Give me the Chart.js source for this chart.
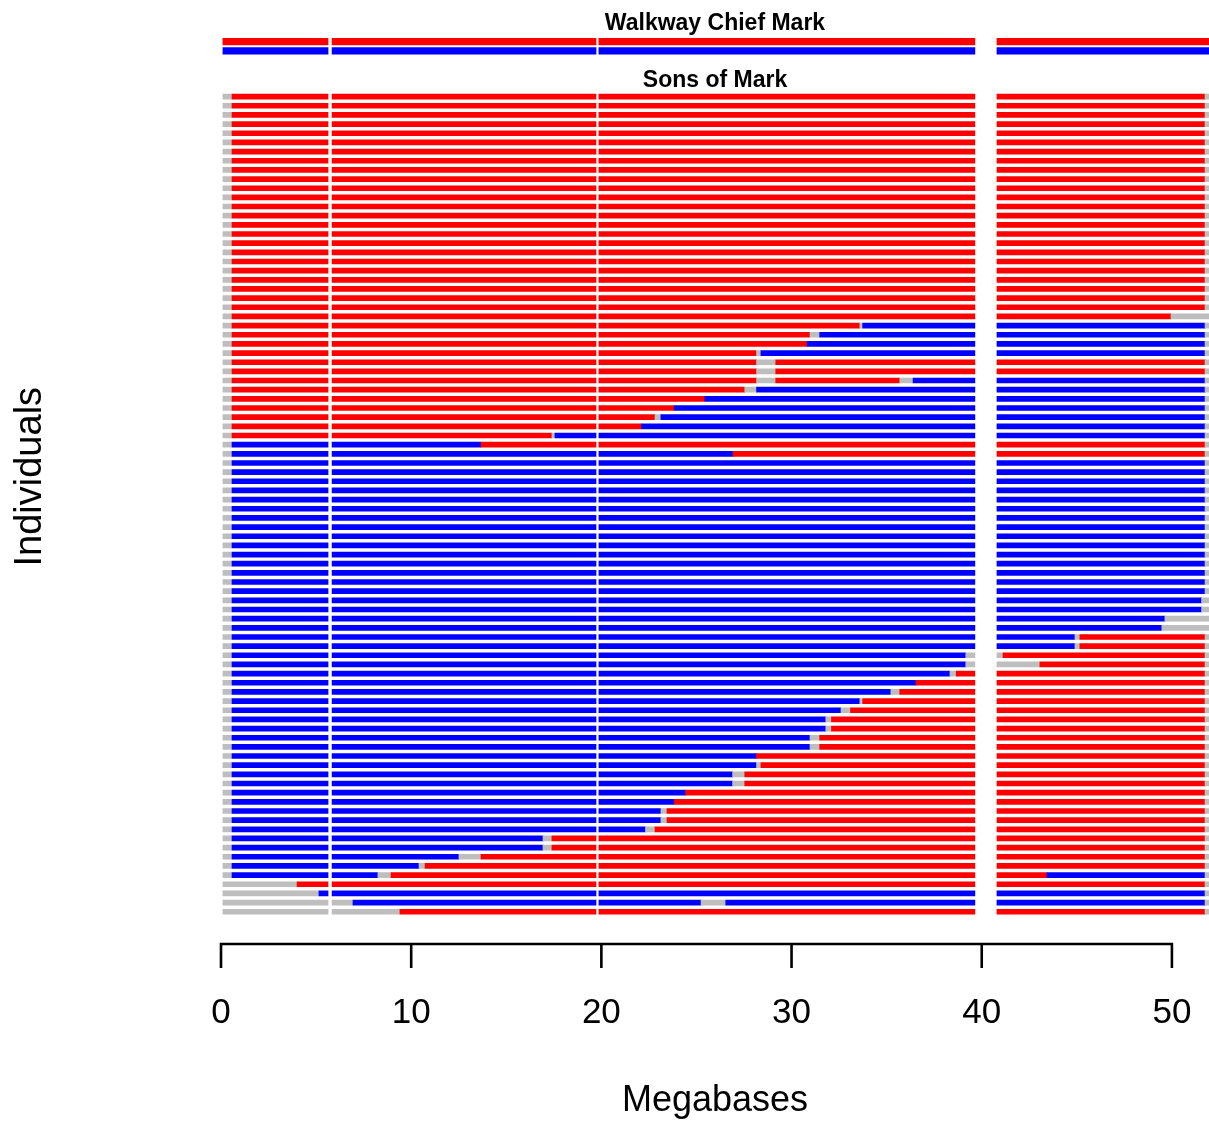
<!DOCTYPE html>
<html>
<head>
<meta charset="utf-8">
<script src="https://cdn.jsdelivr.net/npm/chart.js@4.4.1/dist/chart.umd.min.js"></script>
<style>
  html, body { margin: 0; padding: 0; background: #ffffff; }
  canvas { display: block; }
</style>
</head>
<body>
<canvas id="chart" width="1209" height="1124"></canvas>
<script>
// Marker-covered blocks of the chromosome (Mb); uncovered stretches between them stay white.
const contigs = [[0.10, 5.63], [5.84, 19.72], [19.87, 39.64], [40.80, 51.95]];

// Haplotype codes: 1 = sire haplotype 1, 2 = sire haplotype 2, 0 = undetermined
const hapColours = { 0: '#BEBEBE', 1: '#FF0000', 2: '#0000FF' };

const sireName = 'Walkway Chief Mark';
const sonsTitle = 'Sons of Mark';

// Sire: each haplotype as runs of [haplotype, run end in Mb]
const sireHaplotypes = [
  [[1, 51.95]],
  [[2, 51.95]]
];

// Sons: inherited haplotype runs [haplotype, run end in Mb], each starting where the previous ends
const sons = [
  [[0, 0.58], [1, 51.74], [0, 51.95]],
  [[0, 0.58], [1, 51.74], [0, 51.95]],
  [[0, 0.58], [1, 51.74], [0, 51.95]],
  [[0, 0.58], [1, 51.74], [0, 51.95]],
  [[0, 0.58], [1, 51.74], [0, 51.95]],
  [[0, 0.58], [1, 51.74], [0, 51.95]],
  [[0, 0.58], [1, 51.74], [0, 51.95]],
  [[0, 0.58], [1, 51.74], [0, 51.95]],
  [[0, 0.58], [1, 51.74], [0, 51.95]],
  [[0, 0.58], [1, 51.74], [0, 51.95]],
  [[0, 0.58], [1, 51.74], [0, 51.95]],
  [[0, 0.58], [1, 51.74], [0, 51.95]],
  [[0, 0.58], [1, 51.74], [0, 51.95]],
  [[0, 0.58], [1, 51.74], [0, 51.95]],
  [[0, 0.58], [1, 51.74], [0, 51.95]],
  [[0, 0.58], [1, 51.74], [0, 51.95]],
  [[0, 0.58], [1, 51.74], [0, 51.95]],
  [[0, 0.58], [1, 51.74], [0, 51.95]],
  [[0, 0.58], [1, 51.74], [0, 51.95]],
  [[0, 0.58], [1, 51.74], [0, 51.95]],
  [[0, 0.58], [1, 51.74], [0, 51.95]],
  [[0, 0.58], [1, 51.74], [0, 51.95]],
  [[0, 0.58], [1, 51.74], [0, 51.95]],
  [[0, 0.58], [1, 51.74], [0, 51.95]],
  [[0, 0.58], [1, 49.95], [0, 51.95]],
  [[0, 0.58], [1, 33.59], [0, 33.74], [2, 51.74], [0, 51.95]],
  [[0, 0.58], [1, 30.97], [0, 31.48], [2, 51.74], [0, 51.95]],
  [[0, 0.58], [1, 30.82], [2, 51.74], [0, 51.95]],
  [[0, 0.58], [1, 28.16], [0, 28.39], [2, 51.74], [0, 51.95]],
  [[0, 0.58], [1, 28.16], [0, 29.17], [1, 51.74], [0, 51.95]],
  [[0, 0.58], [1, 28.16], [0, 29.17], [1, 51.74], [0, 51.95]],
  [[0, 0.58], [1, 28.16], [0, 29.17], [1, 35.69], [0, 36.39], [2, 51.74], [0, 51.95]],
  [[0, 0.58], [1, 27.54], [0, 28.16], [2, 51.74], [0, 51.95]],
  [[0, 0.58], [1, 25.44], [2, 51.74], [0, 51.95]],
  [[0, 0.58], [1, 23.83], [2, 51.74], [0, 51.95]],
  [[0, 0.58], [1, 22.82], [0, 23.13], [2, 51.74], [0, 51.95]],
  [[0, 0.58], [1, 22.11], [2, 51.74], [0, 51.95]],
  [[0, 0.58], [1, 17.40], [0, 17.56], [2, 51.74], [0, 51.95]],
  [[0, 0.58], [2, 13.67], [1, 51.74], [0, 51.95]],
  [[0, 0.58], [2, 26.92], [1, 51.74], [0, 51.95]],
  [[0, 0.58], [2, 51.74], [0, 51.95]],
  [[0, 0.58], [2, 51.74], [0, 51.95]],
  [[0, 0.58], [2, 51.74], [0, 51.95]],
  [[0, 0.58], [2, 51.74], [0, 51.95]],
  [[0, 0.58], [2, 51.74], [0, 51.95]],
  [[0, 0.58], [2, 51.74], [0, 51.95]],
  [[0, 0.58], [2, 51.74], [0, 51.95]],
  [[0, 0.58], [2, 51.74], [0, 51.95]],
  [[0, 0.58], [2, 51.74], [0, 51.95]],
  [[0, 0.58], [2, 51.74], [0, 51.95]],
  [[0, 0.58], [2, 51.74], [0, 51.95]],
  [[0, 0.58], [2, 51.74], [0, 51.95]],
  [[0, 0.58], [2, 51.74], [0, 51.95]],
  [[0, 0.58], [2, 51.74], [0, 51.95]],
  [[0, 0.58], [2, 51.74], [0, 51.95]],
  [[0, 0.58], [2, 51.56], [0, 51.95]],
  [[0, 0.58], [2, 51.56], [0, 51.95]],
  [[0, 0.58], [2, 49.63], [0, 51.95]],
  [[0, 0.58], [2, 49.47], [0, 51.95]],
  [[0, 0.58], [2, 44.90], [0, 45.16], [1, 51.74], [0, 51.95]],
  [[0, 0.58], [2, 44.90], [0, 45.16], [1, 51.74], [0, 51.95]],
  [[0, 0.58], [2, 39.16], [0, 41.12], [1, 51.74], [0, 51.95]],
  [[0, 0.58], [2, 39.16], [0, 43.06], [1, 51.74], [0, 51.95]],
  [[0, 0.58], [2, 38.33], [0, 38.66], [1, 51.74], [0, 51.95]],
  [[0, 0.58], [2, 36.54], [1, 51.74], [0, 51.95]],
  [[0, 0.58], [2, 35.22], [0, 35.69], [1, 51.74], [0, 51.95]],
  [[0, 0.58], [2, 33.59], [0, 33.74], [1, 51.74], [0, 51.95]],
  [[0, 0.58], [2, 32.60], [0, 33.10], [1, 51.74], [0, 51.95]],
  [[0, 0.58], [2, 31.80], [0, 32.10], [1, 51.74], [0, 51.95]],
  [[0, 0.58], [2, 31.80], [0, 32.10], [1, 51.74], [0, 51.95]],
  [[0, 0.58], [2, 30.97], [0, 31.48], [1, 51.74], [0, 51.95]],
  [[0, 0.58], [2, 30.97], [0, 31.48], [1, 51.74], [0, 51.95]],
  [[0, 0.58], [2, 28.16], [1, 51.74], [0, 51.95]],
  [[0, 0.58], [2, 28.16], [0, 28.39], [1, 51.74], [0, 51.95]],
  [[0, 0.58], [2, 26.90], [0, 27.54], [1, 51.74], [0, 51.95]],
  [[0, 0.58], [2, 26.90], [0, 27.54], [1, 51.74], [0, 51.95]],
  [[0, 0.58], [2, 24.43], [1, 51.74], [0, 51.95]],
  [[0, 0.58], [2, 23.83], [1, 51.74], [0, 51.95]],
  [[0, 0.58], [2, 23.13], [0, 23.45], [1, 51.74], [0, 51.95]],
  [[0, 0.58], [2, 23.13], [0, 23.45], [1, 51.74], [0, 51.95]],
  [[0, 0.58], [2, 22.32], [0, 22.82], [1, 51.74], [0, 51.95]],
  [[0, 0.58], [2, 16.93], [0, 17.40], [1, 51.74], [0, 51.95]],
  [[0, 0.58], [2, 16.93], [0, 17.40], [1, 51.74], [0, 51.95]],
  [[0, 0.58], [2, 12.51], [0, 13.67], [1, 51.74], [0, 51.95]],
  [[0, 0.58], [2, 10.41], [0, 10.73], [1, 51.74], [0, 51.95]],
  [[0, 0.58], [2, 8.25], [0, 8.94], [1, 43.43], [2, 51.74], [0, 51.95]],
  [[0, 4.00], [1, 51.74], [0, 51.95]],
  [[0, 5.15], [2, 51.74], [0, 51.95]],
  [[0, 6.94], [2, 25.24], [0, 26.54], [2, 51.74], [0, 51.95]],
  [[0, 9.41], [1, 51.74], [0, 51.95]]
];

const xTickValues = [0, 10, 20, 30, 40, 50];
const xRange = [0, 51.95];

// Row order, top to bottom: sire haplotypes, spacer rows for the sons' heading, then sons
const sireRows = ['Sire haplotype 1', 'Sire haplotype 2'];
const spacerRows = ['spacer 1', 'spacer 2', 'spacer 3', 'spacer 4'];
const sonRows = sons.map((_, i) => 'Son ' + (i + 1));
const rowLabels = [...sireRows, ...spacerRows, ...sonRows];

// Split haplotype runs at the uncovered gaps between contigs
function toBars(runs, label) {
  const bars = [];
  let start = contigs[0][0];
  for (const [hap, end] of runs) {
    for (const [a, b] of contigs) {
      const s = Math.max(start, a);
      const e = Math.min(end, b);
      if (e > s) bars.push({ x: [s, e], y: label, hap });
    }
    start = end;
  }
  return bars;
}

const sireBars = sireHaplotypes.flatMap((runs, i) => toBars(runs, sireRows[i]));
const sonBars = sons.flatMap((runs, i) => toBars(runs, sonRows[i]));

const colourOf = (ctx) => (ctx.raw ? hapColours[ctx.raw.hap] : '#000000');

const FONT = '"Liberation Sans", Arial, Helvetica, sans-serif';
Chart.defaults.font.family = FONT;
Chart.defaults.color = '#000000';

// Base-graphics style axis: a line spanning the first to last tick, set below the plot
const rAxisPlugin = {
  id: 'rAxis',
  afterDraw(chart) {
    const xs = chart.scales.x;
    const ctx = chart.ctx;
    const y0 = chart.chartArea.bottom + 27.7;
    const first = xs.getPixelForValue(xTickValues[0]);
    const last = xs.getPixelForValue(xTickValues[xTickValues.length - 1]);
    ctx.save();
    ctx.strokeStyle = '#000000';
    ctx.lineWidth = 2.6;
    ctx.lineCap = 'butt';
    ctx.beginPath();
    ctx.moveTo(first - 1.3, y0);
    ctx.lineTo(last + 1.3, y0);
    for (const t of xs.ticks) {
      const px = xs.getPixelForValue(t.value);
      ctx.moveTo(px, y0);
      ctx.lineTo(px, y0 + 24);
    }
    ctx.stroke();
    ctx.restore();
  }
};

// Heading for the sons' panel, set on the spacer row just above the first son
const sonsHeadingPlugin = {
  id: 'sonsHeading',
  afterDatasetsDraw(chart) {
    const ys = chart.scales.y;
    const ctx = chart.ctx;
    const y = ys.getPixelForValue(rowLabels.indexOf(spacerRows[spacerRows.length - 1]));
    const x = (chart.chartArea.left + chart.chartArea.right) / 2;
    ctx.save();
    ctx.fillStyle = '#000000';
    ctx.font = 'bold 23px ' + FONT;
    ctx.textAlign = 'center';
    ctx.textBaseline = 'alphabetic';
    ctx.fillText(sonsTitle, x, y);
    ctx.restore();
  }
};

new Chart(document.getElementById('chart'), {
  type: 'bar',
  data: {
    labels: rowLabels,
    datasets: [
      {
        label: sireName,
        data: sireBars,
        backgroundColor: colourOf,
        borderWidth: 0,
        barThickness: 6.5,
        grouped: false
      },
      {
        label: sonsTitle,
        data: sonBars,
        backgroundColor: colourOf,
        borderWidth: 0,
        barThickness: 5,
        grouped: false
      }
    ]
  },
  options: {
    indexAxis: 'y',
    responsive: false,
    animation: false,
    events: [],
    layout: { padding: 0 },
    plugins: {
      legend: { display: false },
      tooltip: { enabled: false },
      title: {
        display: true,
        text: sireName,
        fullSize: false,
        color: '#000000',
        font: { size: 23, weight: 'bold' },
        padding: { top: 9.5, bottom: 0 }
      }
    },
    scales: {
      x: {
        type: 'linear',
        position: 'bottom',
        min: xRange[0],
        max: xRange[1],
        offset: false,
        // tick marks are drawn by rAxisPlugin; these only reserve room above the labels
        grid: { display: true, drawOnChartArea: false, drawTicks: true, tickLength: 76, tickColor: 'rgba(0,0,0,0)' },
        border: { display: false },
        afterBuildTicks: (scale) => { scale.ticks = xTickValues.map((v) => ({ value: v })); },
        ticks: { color: '#000000', font: { size: 35 }, padding: 0, maxRotation: 0, autoSkip: false },
        title: {
          display: true,
          text: 'Megabases',
          color: '#000000',
          font: { size: 36 },
          padding: { top: 0, bottom: 1 }
        },
        afterFit: (scale) => { scale.height = 207.7; }
      },
      y: {
        type: 'category',
        offset: true,
        grid: { display: false },
        border: { display: false },
        ticks: { display: false },
        title: {
          display: true,
          text: 'Individuals',
          color: '#000000',
          font: { size: 38 },
          padding: { top: 8, bottom: 0 }
        },
        afterFit: (scale) => { scale.width = 221; }
      }
    }
  },
  plugins: [rAxisPlugin, sonsHeadingPlugin]
});
</script>
</body>
</html>
